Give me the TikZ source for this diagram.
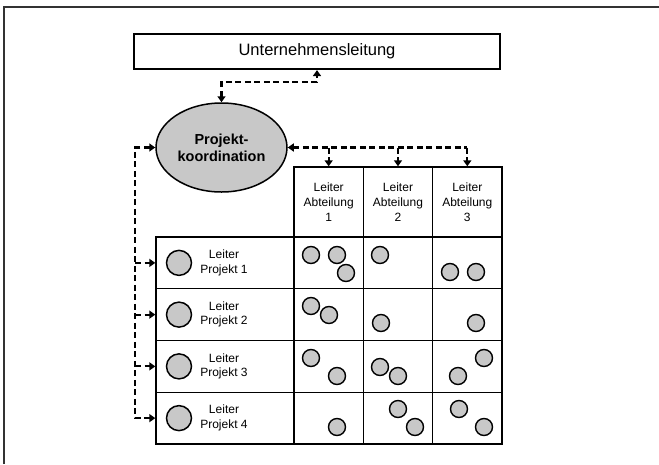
\documentclass[tikz,border=0pt]{standalone}
\usepackage{fontspec}
\setmainfont{Liberation Sans}
\usetikzlibrary{shapes.geometric,arrows.meta}
\definecolor{fillgray}{RGB}{200,200,200}
\begin{document}
\begin{tikzpicture}[x=1pt,y=-1pt,
  conn/.style={line width=2.2pt,dash pattern=on 6pt off 3.5pt},
  tipend/.style={-{Triangle[length=6pt,width=8pt]}},
  tipstart/.style={{Triangle[length=6pt,width=8pt]}-},
  tipboth/.style={{Triangle[length=6pt,width=8pt]}-{Triangle[length=6pt,width=8pt]}},
  cell/.style={draw,line width=1.4pt,inner sep=0pt,minimum width=69.33pt,minimum height=51.75pt},
  headcell/.style={draw,line width=1.4pt,inner sep=0pt,minimum width=69.33pt,minimum height=70pt,
     align=center,font=\fontsize{12}{15}\selectfont},
  rowcell/.style={draw,line width=1.4pt,inner sep=0pt,minimum width=138pt,minimum height=51.75pt},
  rowtext/.style={align=center,font=\fontsize{12}{14.5}\selectfont,inner sep=0pt},
  bigc/.style={circle,draw,line width=1.5pt,fill=fillgray,minimum size=25pt,inner sep=0pt},
  smc/.style={circle,draw,line width=1.4pt,fill=fillgray,minimum size=17pt,inner sep=0pt}]
\useasboundingbox (0,0) rectangle (659,464);
% outer frame (top and left only)
\draw[line width=2pt,black!80] (4,464) -- (4,7) -- (659,7);

% top box
\node[draw,line width=2.2pt,minimum width=366pt,minimum height=35pt,inner sep=0pt,
      font=\fontsize{16.5}{19}\selectfont] (ul) at (317,51.5) {Unternehmensleitung};

% ellipse
\node[ellipse,draw,line width=1.5pt,fill=fillgray,minimum width=131pt,minimum height=89pt,
      inner sep=0pt,align=center,font=\fontsize{14.5}{17}\selectfont\bfseries] (pk) at (221.5,147.5)
      {Projekt-\\koordination};

% header cells
\foreach \i/\n in {1/1,2/2,3/3}{
  \node[headcell] (a\i) at ({294+69.33*(\i-0.5)},202) {Leiter\\Abteilung\\\n};
}
% rows
\foreach \r in {1,2,3,4}{
  \node[rowcell] (p\r) at (225,{237+51.75*(\r-0.5)}) {};
  \node[bigc] (bc\r) at (179,{237+51.75*(\r-0.5)}) {};
  \node[rowtext] (pt\r) at (224,{237+51.75*(\r-0.5)}) {Leiter\\Projekt \r};
  \foreach \c in {1,2,3}{
    \node[cell] (c\r\c) at ({294+69.33*(\c-0.5)},{237+51.75*(\r-0.5)}) {};
  }
}

% small circles
\foreach \x/\y [count=\k] in {
  311/255, 337/255, 346/273, 380/255, 450/272, 476/272,
  311/306, 329/315, 381/323, 476/323,
  311/358, 337/376, 380/367, 398/376, 458/376, 484/358,
  337/427, 398/409, 415/427, 459/409, 484/427}{
  \node[smc] (s\k) at (\x,\y) {};
}

% connectors
\coordinate (topbend) at (221.5,82);
\draw[conn,tipboth] (pk.north) -- (pk.north |- topbend) -| (ul.south);

\draw[conn,tipstart] (pk.east) -- (pk.east -| a3.north);
\foreach \i in {1,2,3}{
  \draw[conn,tipend] (pk.east -| a\i.north) -- (a\i.north);
}

\coordinate (bus) at (135,147.5);
\draw[conn,tipboth] (pk.west) -- (bus) -- (bus |- p4.west) -- (p4.west);
\foreach \r in {1,2,3}{
  \draw[conn,tipend] (bus |- p\r.west) -- (p\r.west);
}
\end{tikzpicture}
\end{document}
